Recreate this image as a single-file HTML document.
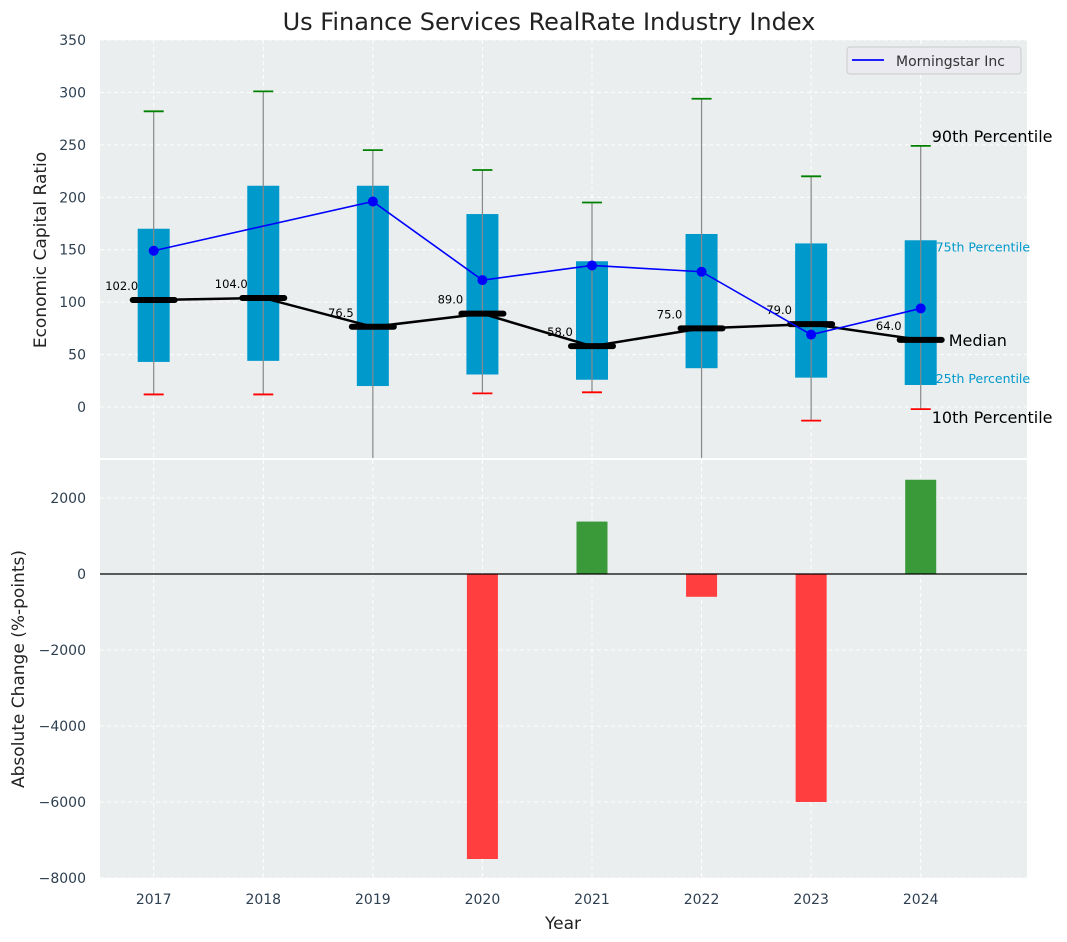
<!DOCTYPE html>
<html><head><meta charset="utf-8"><style>
body{margin:0;background:#fff;}
svg{display:block;font-family:"DejaVu Sans","Liberation Sans",sans-serif;}
</style></head><body>
<svg id="chart" width="1067" height="942" viewBox="0 0 1067 942" xmlns="http://www.w3.org/2000/svg"></svg>
<script>
const years=[2017,2018,2019,2020,2021,2022,2023,2024];
const q1=[43,44,20,31,26,37,28,21];
const q3=[170,211,211,184,139,165,156,159];
const p10=[12,12,-60,13,14,-60,-13,-2];
const p90=[282,301,245,226,195,294,220,249];
const medians=[102,104,76.5,89,58,75,79,64];
const msYears=[2017,2019,2020,2021,2022,2023,2024];
const msValues=[149,196,121,135,129,69,94];
const chgYears=[2020,2021,2022,2023,2024];
const chgValues=[-7500,1380,-600,-6000,2480];
const topTicks=[0,50,100,150,200,250,300,350];
const botTicks=[-8000,-6000,-4000,-2000,0,2000];

const svg=document.getElementById('chart');
const NS='http://www.w3.org/2000/svg';
function mk(tag,attrs,parent,text){const e=document.createElementNS(NS,tag);for(const k in attrs)e.setAttribute(k,attrs[k]);if(text!==undefined)e.textContent=text;(parent||svg).appendChild(e);return e;}
const L=100,R=1027;
const x=v=>L+(v-2016.51)*(R-L)/(2024.97-2016.51);
const T0=40,T1=458,B0=460,B1=878;
const yt=v=>407-v*(407-40)/350;
const yb=v=>574-v*76/2000;

let e=mk('rect',{x:L,y:T0,width:R-L,height:T1-T0,fill:'#eaeeee'});

e=mk('rect',{x:L,y:B0,width:R-L,height:B1-B0,fill:'#eaeeee'});


years.forEach(v=>{mk('line',{x1:x(v),x2:x(v),y1:T0,y2:T1,stroke:'#fff','stroke-dasharray':'4,3'});mk('line',{x1:x(v),x2:x(v),y1:B0,y2:B1,stroke:'#fff','stroke-dasharray':'4,3'});});
topTicks.forEach(v=>{mk('line',{x1:L,x2:R,y1:yt(v),y2:yt(v),stroke:'#fff','stroke-dasharray':'4,3'});
 const t=mk('text',{x:86,y:yt(v)+5,'text-anchor':'end','font-size':14,fill:'#2e3f50'},svg,v);
 });
botTicks.forEach(v=>{mk('line',{x1:L,x2:R,y1:yb(v),y2:yb(v),stroke:'#fff','stroke-dasharray':'4,3'});
 const t=mk('text',{x:86,y:yb(v)+5,'text-anchor':'end','font-size':14,fill:'#2e3f50'},svg,(v<0?'\u2212':'')+Math.abs(v));
 });
years.forEach(v=>{const t=mk('text',{x:x(v),y:904,'text-anchor':'middle','font-size':14,fill:'#2e3f50'},svg,v);
 });

const defs=mk('defs',{});const cp=mk('clipPath',{id:'ct'},defs);mk('rect',{x:L,y:T0,width:R-L,height:T1-T0},cp);
const gt=mk('g',{'clip-path':'url(#ct)'});


years.forEach((yr,i)=>{
 const cx=x(yr);
 const b=mk('rect',{x:cx-16,y:yt(q3[i]),width:32,height:yt(q1[i])-yt(q3[i]),fill:'#0099cc'},gt);
 
 mk('line',{x1:cx,x2:cx,y1:yt(p10[i]),y2:yt(p90[i]),stroke:'#888','stroke-width':1.2},gt);
 mk('line',{x1:cx-10,x2:cx+10,y1:yt(p90[i]),y2:yt(p90[i]),stroke:'green','stroke-width':1.8},gt);
 mk('line',{x1:cx-10,x2:cx+10,y1:yt(p10[i]),y2:yt(p10[i]),stroke:'red','stroke-width':1.8},gt);
});
let pts=years.map((yr,i)=>x(yr)+','+yt(medians[i])).join(' ');
e=mk('polyline',{points:pts,fill:'none',stroke:'#000','stroke-width':2.5},gt);

years.forEach((yr,i)=>{
 const cx=x(yr),cy=yt(medians[i]);
 const m=mk('line',{x1:cx-21,x2:cx+21,y1:cy,y2:cy,stroke:'#000','stroke-width':6,'stroke-linecap':'round'},gt);
 
 const t=mk('text',{x:cx-32,y:cy-10,'text-anchor':'middle','font-size':11.5,fill:'#000'},gt,medians[i].toFixed(1));
 
});
pts=msYears.map((yr,i)=>x(yr)+','+yt(msValues[i])).join(' ');
e=mk('polyline',{points:pts,fill:'none',stroke:'blue','stroke-width':1.6},gt);

msYears.forEach((yr,i)=>{const c=mk('circle',{cx:x(yr),cy:yt(msValues[i]),r:5,fill:'blue'},gt);
 });

const li=years.length-1,lx=x(years[li]);
[[p90[li],'90th Percentile',16,'#000',11,-4],[q3[li],'75th Percentile',12.5,'#0099cc',15,11],[medians[li],'Median',16,'#000',28,6],[q1[li],'25th Percentile',12.5,'#0099cc',15,-2],[p10[li],'10th Percentile',16,'#000',11,14]].forEach(a=>{
 const t=mk('text',{x:lx+a[4],y:yt(a[0])+a[5],'font-size':a[2],fill:a[3]},svg,a[1]);
 
});

const lg=mk('g',{});
mk('rect',{x:847,y:47,width:174,height:27,rx:3,fill:'#eaeaf0',stroke:'#ccc'},lg);
mk('line',{x1:852,x2:884,y1:60,y2:60,stroke:'blue','stroke-width':1.8},lg);
mk('text',{x:896,y:66,'font-size':14,fill:'#333'},lg,'Morningstar Inc');

chgYears.forEach((yr,i)=>{const v=chgValues[i];
 const r=mk('rect',{x:x(yr)-15.5,y:Math.min(yb(v),yb(0)),width:31,height:Math.abs(yb(v)-yb(0)),fill:v>=0?'#3a9a3a':'#ff3f3f'});
 });
mk('line',{x1:L,x2:R,y1:yb(0),y2:yb(0),stroke:'#000','stroke-width':1.2});

e=mk('text',{x:549,y:30,'text-anchor':'middle','font-size':24,fill:'#222'},svg,'Us Finance Services RealRate Industry Index');

e=mk('text',{x:0,y:0,'text-anchor':'middle','font-size':17,fill:'#222',transform:'translate(46,250) rotate(-90)'},svg,'Economic Capital Ratio');

e=mk('text',{x:0,y:0,'text-anchor':'middle','font-size':17,fill:'#222',transform:'translate(24,669) rotate(-90)'},svg,'Absolute Change (%-points)');

e=mk('text',{x:563,y:929,'text-anchor':'middle','font-size':17,fill:'#222'},svg,'Year');

</script>
</body></html>
